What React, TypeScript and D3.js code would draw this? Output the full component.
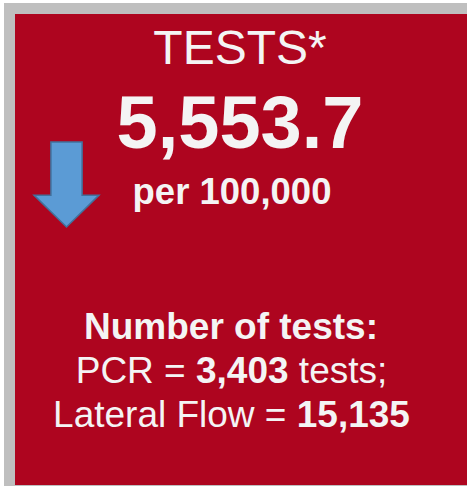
import React, { useEffect, useRef } from 'react';
import * as d3 from 'd3';

const title = 'TESTS*';
const rate = 5553.7;
const rateUnit = 'per 100,000';
const countsHeading = 'Number of tests:';
const testTypes = ['PCR', 'Lateral Flow'];
const testCounts = [3403, 15135];
const testSuffix = [' tests;', ''];

const W = 467;
const H = 486;

export default function App() {
  const svgRef = useRef<SVGSVGElement>(null);

  useEffect(() => {
    if (!svgRef.current) return;
    const svg = d3.select(svgRef.current);
    svg.selectAll('*').remove();

    const font = '"Liberation Sans", Arial, sans-serif';
    const textColor = '#f4f4f4';
    const fmt = d3.format(',');

    // outer frame
    svg.append('rect').attr('x', 0).attr('y', 0).attr('width', W).attr('height', H).attr('fill', '#ffffff');
    svg.append('rect').attr('x', 4).attr('y', 3).attr('width', W - 4).attr('height', H - 3).attr('fill', '#bfbfbf');
    svg.append('rect').attr('x', 15).attr('y', 14).attr('width', W - 15).attr('height', H - 15).attr('fill', '#ae051f');

    const txt = (x: number, y: number, size: number, weight: string) =>
      svg.append('text')
        .attr('x', x)
        .attr('y', y)
        .attr('text-anchor', 'middle')
        .style('font-family', font)
        .style('font-size', `${size}px`)
        .style('font-weight', weight)
        .style('fill', textColor);

    txt(240, 64, 48, 'normal').text(title);
    txt(240, 148, 74, 'bold').text(d3.format(',.1f')(rate));
    txt(232, 204, 36.5, 'bold').text(rateUnit);
    txt(231, 339, 37, 'bold').text(countsHeading);

    // test count lines
    const y = d3.scaleBand<number>().domain(d3.range(testTypes.length)).range([361, 449]);
    testTypes.forEach((t, i) => {
      const line = txt(231.5, (y(i) ?? 0) + 22, 37, 'normal');
      line.append('tspan').text(`${t} = `);
      line.append('tspan').style('font-weight', 'bold').text(fmt(testCounts[i]));
      line.append('tspan').text(testSuffix[i]);
    });

    // down arrow
    const ax = d3.scaleLinear().domain([0, 1]).range([34, 99]);
    const ay = d3.scaleLinear().domain([0, 1]).range([142, 227]);
    const pts: [number, number][] = [
      [0.26, 0], [0.74, 0], [0.74, 0.625], [1, 0.625], [0.5, 1], [0, 0.625], [0.26, 0.625],
    ];
    svg.append('path')
      .attr('d', d3.line().curve(d3.curveLinearClosed)(pts.map(([px, py]) => [ax(px), ay(py)])))
      .attr('fill', '#5b9bd5')
      .attr('stroke', '#41719c')
      .attr('stroke-width', 1.5);
  }, []);

  return (
    <svg ref={svgRef} width={W} height={H} style={{ position: 'absolute', left: 0, top: 0, display: 'block' }} />
  );
}
